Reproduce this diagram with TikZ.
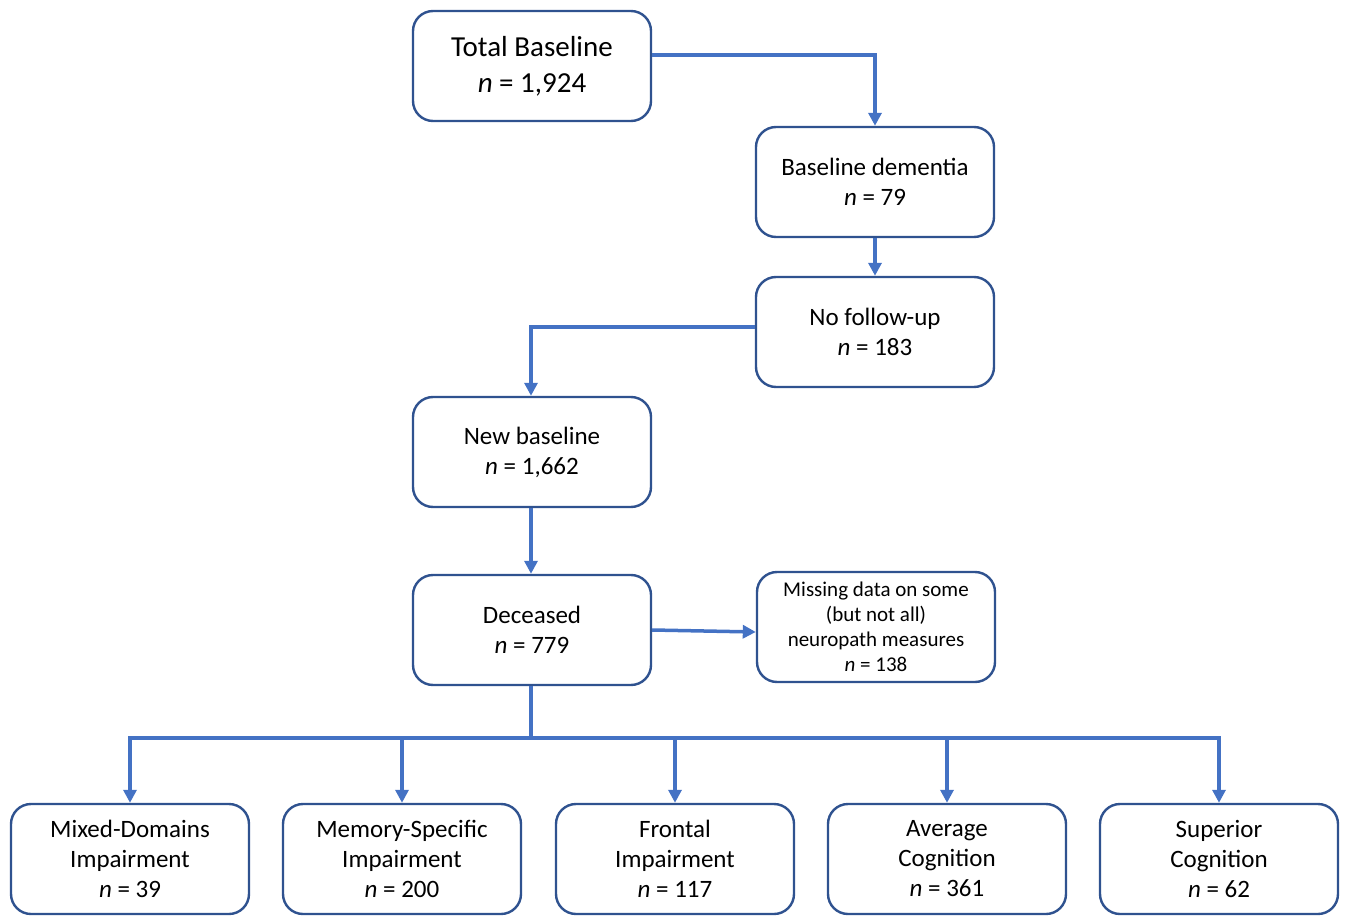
\documentclass[tikz,border=0pt]{standalone}
\usepackage{fontspec}
\setmainfont{Carlito}
\usetikzlibrary{arrows.meta}
\definecolor{boxblue}{HTML}{2F528F}
\definecolor{lineblue}{HTML}{4472C4}
\tikzset{
  stage/.style={draw=boxblue, line width=2.4pt, rounded corners=20pt, fill=white,
    minimum width=238pt, minimum height=110pt, align=center, inner sep=2pt,
    font=\fontsize{25}{30}\selectfont},
  flow/.style={draw=lineblue, line width=3.5pt, -{Triangle[length=13pt,width=13pt]}},
  trunk/.style={draw=lineblue, line width=3.5pt}
}
\begin{document}
\begin{tikzpicture}[x=1pt, y=-1pt]
\useasboundingbox (0,0) rectangle (1346,917);

\node[stage, font=\fontsize{29}{36}\selectfont] (total) at (532,66) {Total Baseline\\\textit{n} = 1,924};
\node[stage] (dem) at (875,182) {Baseline dementia\\\textit{n} = 79};
\node[stage] (nofu) at (875,332) {No follow-up\\\textit{n} = 183};
\node[stage] (newb) at (532,452) {New baseline\\\textit{n} = 1,662};
\node[stage] (dec) at (532,630) {Deceased\\\textit{n} = 779};
\node[stage, font=\fontsize{21}{25}\selectfont] (miss) at (876,627) {Missing data on some\\(but not all)\\neuropath measures\\\textit{n} = 138};

\node[stage] (mix) at (130,859) {Mixed-Domains\\Impairment\\\textit{n} = 39};
\node[stage] (mem) at (402,859) {Memory-Specific\\Impairment\\\textit{n} = 200};
\node[stage] (fro) at (675,859) {Frontal\\Impairment\\\textit{n} = 117};
\node[stage] (avg) at (947,859) {Average\\Cognition\\\textit{n} = 361};
\node[stage] (sup) at (1219,859) {Superior\\Cognition\\\textit{n} = 62};

\coordinate (split) at (531,738);

\draw[flow] ([yshift=11pt]total.east) -| (dem.north);
\draw[flow] (dem) -- (nofu);
\draw[flow] ([yshift=5pt]nofu.west) -| ([xshift=-1pt]newb.north);
\draw[flow] ([xshift=-1pt]newb.south) -- ([xshift=-1pt]dec.north);
\draw[flow] (dec.east) -- ([yshift=-5pt]miss.west);

\draw[trunk] ([xshift=-1pt]dec.south) -- (split);
\foreach \n in {mix,mem,fro,avg,sup}
  \draw[flow] (split) -| (\n.north);
\end{tikzpicture}
\end{document}
